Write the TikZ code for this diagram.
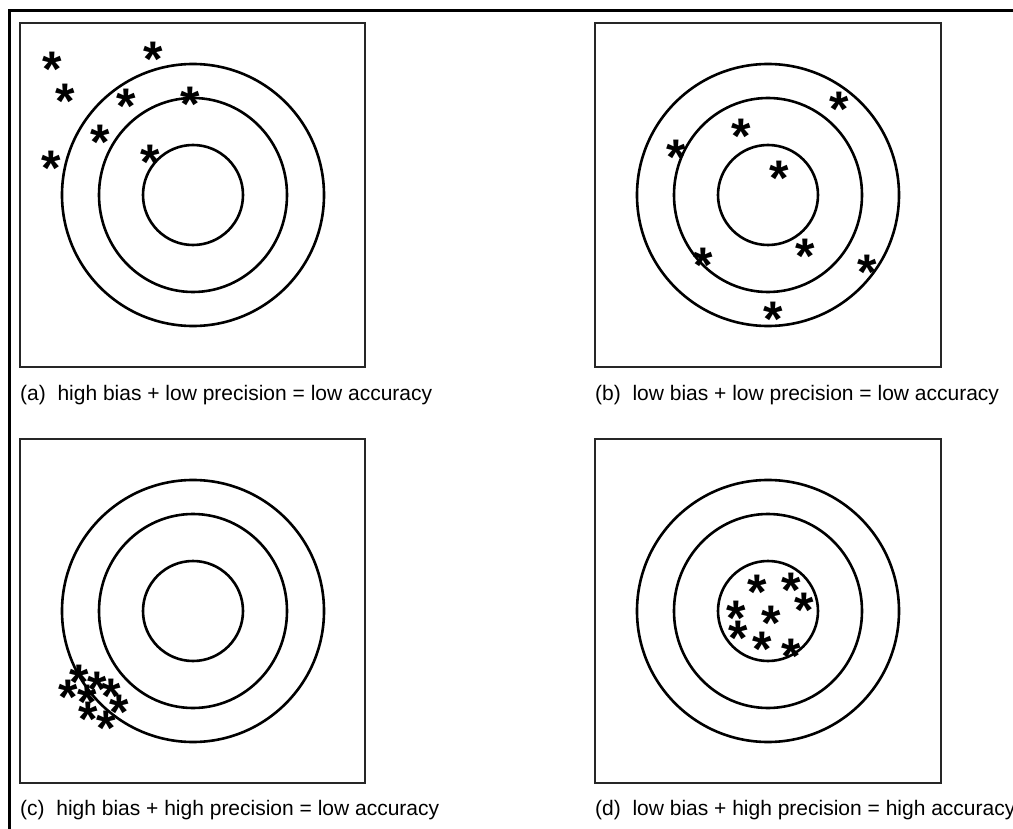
\documentclass[tikz,border=0pt]{standalone}
\usepackage{fontspec}
\setmainfont{Liberation Sans}
\begin{document}
\begin{tikzpicture}[x=1pt,y=-1pt,
  frame/.style={draw=black, line width=3pt},
  panel/.style={draw=black!85, line width=1.6pt},
  ring/.style={draw=black, line width=2.6pt},
  hit/.style={inner sep=0pt, anchor=north, font=\fontsize{50}{50}\selectfont\bfseries, yshift=8pt},
  caption/.style={anchor=base west, inner sep=0pt, font=\fontsize{21}{21}\selectfont}]
\useasboundingbox (0,0) rectangle (1013,829);
% outer frame (cut at right and bottom)
\draw[frame] (9,829) -- (9,11) -- (1013,11);
% panels
\draw[panel] (20,23) rectangle (365,367);
\draw[panel] (595,23) rectangle (941,367);
\draw[panel] (20,439) rectangle (365,783);
\draw[panel] (595,439) rectangle (941,783);
% targets
\foreach \cx/\cy in {193/195, 768/195, 193/611, 768/611}{
  \draw[ring] (\cx,\cy) circle[radius=131];
  \draw[ring] (\cx,\cy) ellipse[x radius=94, y radius=97];
  \draw[ring] (\cx,\cy) circle[radius=50];
}
% (a) stars
\foreach \x/\y [count=\i] in {52/60, 153/50, 65/92, 126/97, 190/95, 100/133, 51/159, 150/153}
  \node[hit] (a\i) at (\x,\y) {*};
% (b) stars
\foreach \x/\y [count=\i] in {839/100, 741/127, 676/148, 779/169, 805/247, 703/256, 867/263, 773/310}
  \node[hit] (b\i) at (\x,\y) {*};
% (c) stars
\foreach \x/\y [count=\i] in {79/673, 97/680, 68/688, 111/687, 87/693, 119/703, 88/710, 106/719}
  \node[hit] (c\i) at (\x,\y) {*};
% (d) stars
\foreach \x/\y [count=\i] in {757/583, 791/581, 804/601, 736/609, 771/614, 738/629, 762/640, 791/647}
  \node[hit] (d\i) at (\x,\y) {*};
% captions
\node[caption] (capa) at (20,400) {(a)\ \ high bias + low precision = low accuracy};
\node[caption] (capb) at (595,400) {(b)\ \ low bias + low precision = low accuracy};
\node[caption] (capc) at (20,815) {(c)\ \ high bias + high precision = low accuracy};
\node[caption] (capd) at (595,815) {(d)\ \ low bias + high precision = high accuracy};
\end{tikzpicture}
\end{document}
